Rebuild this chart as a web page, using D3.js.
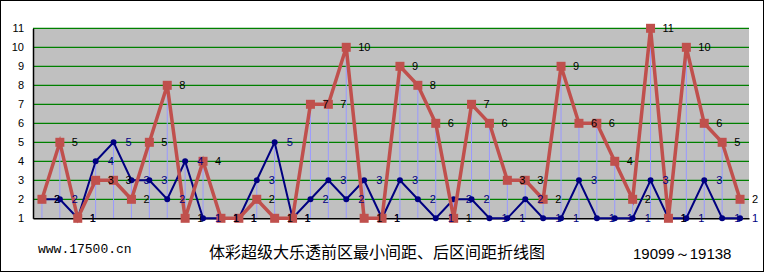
<!DOCTYPE html>
<html>
<head>
<meta charset="utf-8">
<script src="https://cdn.jsdelivr.net/npm/d3@7"></script>
<style>
  body { margin: 0; background: #fff; }
  svg { display: block; }
  .tick text { font-family: "Liberation Sans", Arial, sans-serif; font-size: 11px; fill: #000; }
</style>
</head>
<body>
<div class="chartframe"></div>
<script>
(function(){

    //draw periods (categories), 19099 to 19138
    var periods = ["19099","19100","19101","19102","19103","19104","19105","19106","19107","19108",
                   "19109","19110","19111","19112","19113","19114","19115","19116","19117","19118",
                   "19119","19120","19121","19122","19123","19124","19125","19126","19127","19128",
                   "19129","19130","19131","19132","19133","19134","19135","19136","19137","19138"];

    //front zone minimum gap (blue)
    var frontMinGap = [2,2,1,4,5,3,3,2,4,1, 1,1,3,5,1,2,3,2,3,1,
                       3,2,1,2,2,1,1,2,1,1, 3,1,1,1,3,1,1,3,1,1];

    //back zone gap (red)
    var backGap = [2,5,1,3,3,2,5,8,1,4, 1,1,2,1,1,7,7,10,1,1,
                   9,8,6,1,7,6,3,3,2,9, 6,6,4,2,11,1,10,6,5,2];

    var yTicks = [1,2,3,4,5,6,7,8,9,10,11];

    var width = 767,
        height = 273,
        plotLeft = 33,
        plotRight = 749,
        plotTop = 28.3,
        plotBottom = 218.3;

    var svg = d3.select(".chartframe")
        .append("svg")
        .attr("width", width)
        .attr("height", height);

    //outer frame
    svg.append("rect")
        .attr("x", 0.5).attr("y", 0.5)
        .attr("width", 763).attr("height", 271)
        .attr("fill", "#fff")
        .attr("stroke", "#000")
        .attr("stroke-width", 1);

    var x = d3.scaleBand().domain(periods).range([plotLeft, plotRight]);
    var y = d3.scaleLinear().domain([1, 11]).range([plotBottom, plotTop]);
    var cx = function(d, i){ return x(periods[i]) + x.bandwidth() / 2; };

    //plot background
    svg.append("rect")
        .attr("x", plotLeft).attr("y", plotTop)
        .attr("width", plotRight - plotLeft).attr("height", plotBottom - plotTop)
        .attr("fill", "#c0c0c0");

    //green gridlines
    svg.selectAll(".grid")
        .data(yTicks.slice(1))
        .enter()
        .append("line")
        .attr("class", "grid")
        .attr("x1", plotLeft).attr("x2", plotRight)
        .attr("y1", function(d){ return y(d); })
        .attr("y2", function(d){ return y(d); })
        .attr("stroke", "#008000")
        .attr("stroke-width", 1.2);

    //drop lines from the higher point to the axis
    svg.selectAll(".drop")
        .data(periods)
        .enter()
        .append("line")
        .attr("class", "drop")
        .attr("x1", cx).attr("x2", cx)
        .attr("y1", function(d, i){ return y(Math.max(frontMinGap[i], backGap[i])); })
        .attr("y2", plotBottom)
        .attr("stroke", "#9999ff")
        .attr("stroke-width", 1);

    //y axis
    var yAxis = d3.axisLeft(y).tickValues(yTicks).tickSize(0).tickPadding(9);
    var axisG = svg.append("g")
        .attr("class", "axis")
        .attr("transform", "translate(" + plotLeft + ",0)")
        .call(yAxis);
    axisG.select(".domain").attr("stroke", "#000").attr("stroke-width", 1.5);

    //x axis line (baseline)
    var xAxis = d3.axisBottom(x).tickSize(0).tickFormat("");
    var xG = svg.append("g")
        .attr("transform", "translate(0," + plotBottom + ")")
        .call(xAxis);
    xG.select(".domain").attr("stroke", "#000").attr("stroke-width", 1.5);

    var line = d3.line()
        .x(cx)
        .y(function(d){ return y(d); });

    //blue series
    svg.append("path")
        .datum(frontMinGap)
        .attr("d", line)
        .attr("fill", "none")
        .attr("stroke", "#000080")
        .attr("stroke-width", 2);

    svg.selectAll(".blueDot")
        .data(frontMinGap)
        .enter()
        .append("circle")
        .attr("class", "blueDot")
        .attr("cx", cx)
        .attr("cy", function(d){ return y(d); })
        .attr("r", 3)
        .attr("fill", "#000080");

    //red series
    svg.append("path")
        .datum(backGap)
        .attr("d", line)
        .attr("fill", "none")
        .attr("stroke", "#c0504d")
        .attr("stroke-width", 3.5);

    svg.selectAll(".redSq")
        .data(backGap)
        .enter()
        .append("rect")
        .attr("class", "redSq")
        .attr("x", function(d, i){ return cx(d, i) - 4.5; })
        .attr("y", function(d){ return y(d) - 4.5; })
        .attr("width", 9)
        .attr("height", 9)
        .attr("fill", "#c0504d");

    //value labels
    svg.selectAll(".blueLabel")
        .data(frontMinGap)
        .enter()
        .append("text")
        .attr("class", "blueLabel")
        .attr("x", function(d, i){ return cx(d, i) + 12; })
        .attr("y", function(d){ return y(d) + 4; })
        .attr("fill", "#000080")
        .style("font-family", "Liberation Sans, Arial, sans-serif")
        .style("font-size", "11px")
        .text(function(d){ return d; });

    svg.selectAll(".redLabel")
        .data(backGap)
        .enter()
        .append("text")
        .attr("class", "redLabel")
        .attr("x", function(d, i){ return cx(d, i) + 12; })
        .attr("y", function(d){ return y(d) + 4; })
        .attr("fill", "#000")
        .style("font-family", "Liberation Sans, Arial, sans-serif")
        .style("font-size", "11px")
        .text(function(d){ return d; });

    //footer texts
    svg.append("text")
        .attr("x", 38).attr("y", 253)
        .style("font-family", "Liberation Mono, Courier New, monospace")
        .style("font-size", "13px")
        .text("www.17500.cn");

    svg.append("text")
        .attr("x", 209).attr("y", 258)
        .style("font-family", "Noto Sans CJK SC, sans-serif")
        .style("font-size", "16px")
        .text("体彩超级大乐透前区最小间距、后区间距折线图");

    svg.append("text")
        .attr("x", 633).attr("y", 259)
        .style("font-family", "Liberation Sans, Arial, sans-serif")
        .style("font-size", "15px")
        .text("19099～19138");

})();
</script>
</body>
</html>
